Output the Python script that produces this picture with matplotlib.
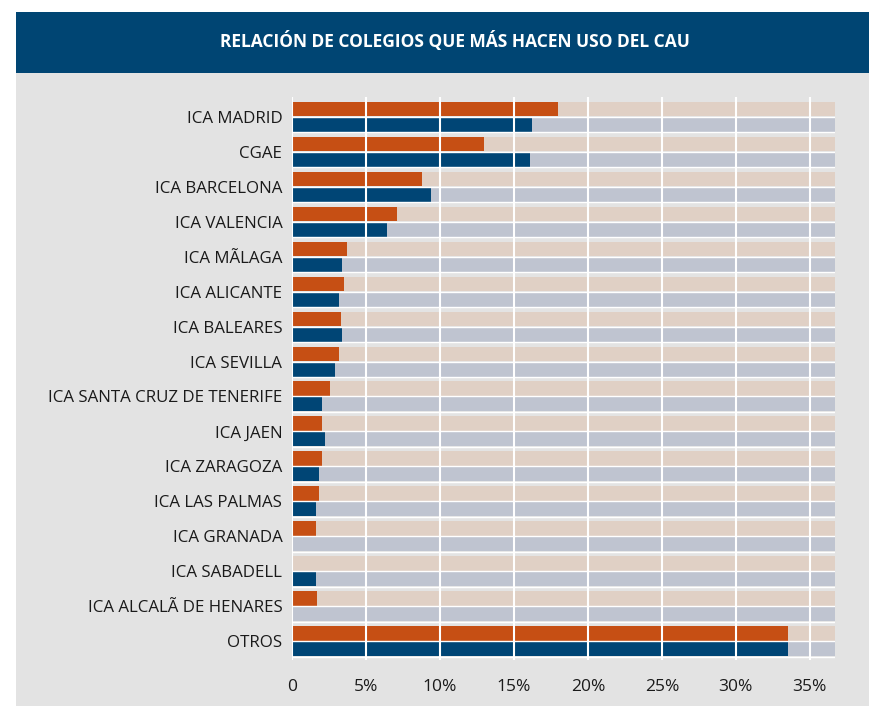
import matplotlib.pyplot as plt
from matplotlib.patches import Rectangle

# data (percent)
colegios = ["ICA MADRID", "CGAE", "ICA BARCELONA", "ICA VALENCIA", "ICA MÃLAGA",
            "ICA ALICANTE", "ICA BALEARES", "ICA SEVILLA", "ICA SANTA CRUZ DE TENERIFE",
            "ICA JAEN", "ICA ZARAGOZA", "ICA LAS PALMAS", "ICA GRANADA", "ICA SABADELL",
            "ICA ALCALÃ DE HENARES", "OTROS"]
serie_naranja = [18.0, 13.0, 8.8, 7.1, 3.7, 3.5, 3.3, 3.2, 2.6, 2.0, 2.0, 1.8, 1.6, 0.1, 1.7, 33.5]
serie_azul = [16.2, 16.1, 9.4, 6.4, 3.4, 3.2, 3.4, 2.9, 2.0, 2.2, 1.8, 1.6, 0.05, 1.6, 0.05, 33.5]
ticks = [0, 5, 10, 15, 20, 25, 30, 35]
tick_labels = ["0", "5%", "10%", "15%", "20%", "25%", "30%", "35%"]

naranja = "#C64F14"
azul = "#004575"
fondo_naranja = "#E0D0C5"
fondo_azul = "#BFC4D0"
gris = "#E3E3E3"
cabecera = "#004573"

W, H = 870, 706
fig = plt.figure(figsize=(W / 100, H / 100), dpi=100)
fig.patch.set_facecolor("white")

# panel and header
fig.patches.append(Rectangle((16 / W, 0), 1 - 16 / W, 1 - 73 / H, transform=fig.transFigure,
                             facecolor=gris, edgecolor="none", zorder=-10))
fig.patches.append(Rectangle((16 / W, 1 - 73 / H), 1 - 16 / W, 61 / H, transform=fig.transFigure,
                             facecolor=cabecera, edgecolor="none", zorder=-10))
fig.text(455 / W, 1 - 41 / H, "RELACIÓN DE COLEGIOS QUE MÁS HACEN USO DEL CAU",
         color="white", fontsize=12.5, fontweight="bold", family="Open Sans",
         ha="center", va="center")

xmax = 36.7
pitch = 35.0  # px per group
top_px, bot_px = 97, 660
ax = fig.add_axes([292 / W, 1 - bot_px / H, (835 - 292) / W, (bot_px - top_px) / H])
ax.set_facecolor("none")

n = len(colegios)
h = 14.5 / pitch
gap = 1.0 / pitch
y_or = [i + h / 2 for i in range(n)]
y_az = [i + h + gap + h / 2 for i in range(n)]

ax.barh(y_or, [xmax] * n, height=h, color=fondo_naranja, zorder=1)
ax.barh(y_az, [xmax] * n, height=h, color=fondo_azul, zorder=1)
ax.barh(y_or, serie_naranja, height=h, color=naranja, zorder=2)
ax.barh(y_az, serie_azul, height=h, color=azul, zorder=2)

for i in range(n):
    ax.axhline(i + h + gap / 2, color="white", lw=1.0, zorder=3)
    ax.axhline(i + 2 * h + gap + 0.5 / pitch, color="white", lw=1.0, zorder=3)

for t in ticks:
    ax.axvline(t, color="white", lw=1.5, zorder=4)

last = (n - 1) + 2 * h + gap
ax.set_ylim(last + (bot_px - 656) / pitch, -(102 - top_px) / pitch)
ax.set_xlim(0, xmax)

ax.set_yticks([i + h + gap / 2 for i in range(n)])
ax.set_yticklabels(colegios, family="Open Sans", fontsize=12.2, color="#1a1a1a")
ax.set_xticks(ticks)
ax.set_xticklabels(tick_labels, family="Open Sans", fontsize=12.5, color="#1a1a1a")
ax.tick_params(length=0)
ax.tick_params(axis="y", pad=7)
ax.tick_params(axis="x", pad=14)
for s in ax.spines.values():
    s.set_visible(False)

fig.savefig("out.png", dpi=100)
